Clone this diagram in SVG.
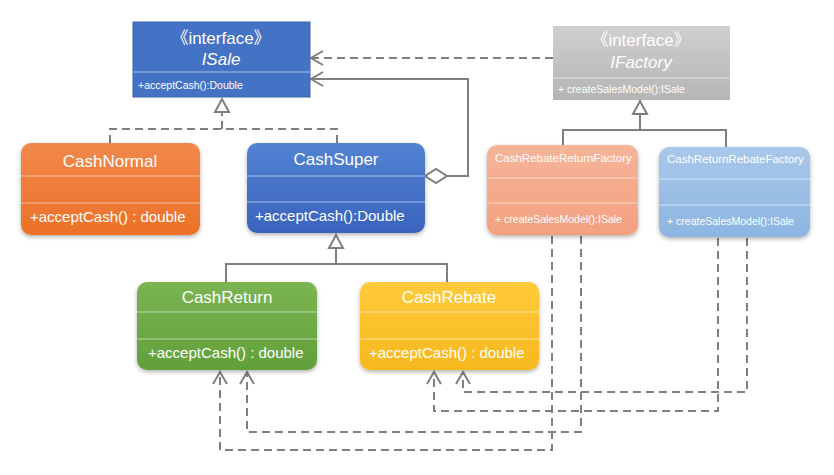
<svg xmlns="http://www.w3.org/2000/svg" width="834" height="475" viewBox="0 0 834 475">
<defs>
<style>
text{font-family:"Liberation Sans","Noto Sans CJK SC",sans-serif;fill:#ffffff}
.t{font-size:17px;text-anchor:middle}
.m{font-size:15px}
.ft{font-size:11.5px}
.fm{font-size:10.5px}
.it{font-size:17px;text-anchor:middle}
.div{stroke:#ffffff;stroke-opacity:0.55;stroke-width:1}
.ln{fill:none;stroke:#7f7f7f;stroke-width:2}
.dash{stroke-dasharray:8 5}
</style>
<filter id="sh" x="-10%" y="-10%" width="120%" height="130%">
<feDropShadow dx="0" dy="2" stdDeviation="2" flood-color="#000" flood-opacity="0.3"/>
</filter>
<linearGradient id="gOr" x1="0" y1="0" x2="0" y2="1"><stop offset="0" stop-color="#f2884c"/><stop offset="1" stop-color="#ec7128"/></linearGradient>
<linearGradient id="gBl" x1="0" y1="0" x2="0" y2="1"><stop offset="0" stop-color="#5383d3"/><stop offset="1" stop-color="#3a63bd"/></linearGradient>
<linearGradient id="gGr" x1="0" y1="0" x2="0" y2="1"><stop offset="0" stop-color="#7ab552"/><stop offset="1" stop-color="#62a03b"/></linearGradient>
<linearGradient id="gYe" x1="0" y1="0" x2="0" y2="1"><stop offset="0" stop-color="#ffca3a"/><stop offset="1" stop-color="#f6b91e"/></linearGradient>
<linearGradient id="gSa" x1="0" y1="0" x2="0" y2="1"><stop offset="0" stop-color="#f6b49a"/><stop offset="1" stop-color="#f3a07f"/></linearGradient>
<linearGradient id="gLb" x1="0" y1="0" x2="0" y2="1"><stop offset="0" stop-color="#a9c8ea"/><stop offset="1" stop-color="#8cb5e1"/></linearGradient>
<linearGradient id="gGy" x1="0" y1="0" x2="0" y2="1"><stop offset="0" stop-color="#cfcfcf"/><stop offset="1" stop-color="#b5b5b5"/></linearGradient>
<marker id="open" markerUnits="userSpaceOnUse" markerWidth="16" markerHeight="16" refX="13" refY="8" orient="auto" overflow="visible">
<path d="M1,1 L13,8 L1,15" fill="none" stroke="#7f7f7f" stroke-width="2"/>
</marker>
<marker id="tri" markerUnits="userSpaceOnUse" markerWidth="16" markerHeight="18" refX="14" refY="8" orient="auto" overflow="visible">
<path d="M1,1 L14,8 L1,15 Z" fill="#ffffff" stroke="#7f7f7f" stroke-width="2"/>
</marker>
<marker id="dia" markerUnits="userSpaceOnUse" markerWidth="26" markerHeight="16" refX="1" refY="8" orient="auto" overflow="visible">
<path d="M1,8 L12,1 L23,8 L12,15 Z" fill="#ffffff" stroke="#7f7f7f" stroke-width="2"/>
</marker>
</defs>
<rect width="834" height="475" fill="#ffffff"/>

<g id="connectors">
<path class="ln dash" d="M553,58 L311,58" marker-end="url(#open)"/>
<path class="ln" d="M425,176 L468,176 L468,79 L311,79" marker-start="url(#dia)" marker-end="url(#open)"/>
<path class="ln dash" d="M110,143 L110,129 L337,129 L337,143"/>
<path class="ln dash" d="M222,129 L222,99" marker-end="url(#tri)"/>
<path class="ln" d="M563,145 L563,130 L726,130 L726,147"/>
<path class="ln" d="M640,130 L640,101" marker-end="url(#tri)"/>
<path class="ln" d="M226,282 L226,264 L447,264 L447,282"/>
<path class="ln" d="M336,264 L336,235" marker-end="url(#tri)"/>
<path class="ln dash" d="M552,236 L552,450 L220,450 L220,372" marker-end="url(#open)"/>
<path class="ln dash" d="M581,236 L581,432 L247,432 L247,372" marker-end="url(#open)"/>
<path class="ln dash" d="M718,238 L718,411 L434,411 L434,372" marker-end="url(#open)"/>
<path class="ln dash" d="M747,238 L747,392 L463,392 L463,372" marker-end="url(#open)"/>
</g>

<g id="ISale">
<rect x="133" y="22" width="177" height="75" fill="#4472c4" stroke="#3a62ad" stroke-width="1"/>
<line class="div" x1="133" y1="72" x2="310" y2="72"/>
<text class="it" x="221" y="44">《interface》</text>
<text class="it" x="221" y="65" font-style="italic">ISale</text>
<text x="138" y="89" font-size="10.5">+acceptCash():Double</text>
</g>

<g id="IFactory">
<rect x="553" y="26" width="177" height="74" fill="url(#gGy)"/>
<line class="div" x1="553" y1="78" x2="730" y2="78"/>
<text class="it" x="641" y="46">《interface》</text>
<text class="it" x="641" y="68" font-style="italic">IFactory</text>
<text x="558" y="93" font-size="10.5">+ createSalesModel():ISale</text>
</g>

<g id="CashNormal">
<rect x="21" y="143" width="179" height="92" rx="10" fill="url(#gOr)" filter="url(#sh)"/>
<line class="div" x1="21" y1="176" x2="200" y2="176"/>
<line class="div" x1="21" y1="203" x2="200" y2="203"/>
<text class="t" x="110" y="167">CashNormal</text>
<text class="m" x="30" y="222">+acceptCash() : double</text>
</g>

<g id="CashSuper">
<rect x="247" y="143" width="178" height="90" rx="10" fill="url(#gBl)" filter="url(#sh)"/>
<line class="div" x1="247" y1="176" x2="425" y2="176"/>
<line class="div" x1="247" y1="202" x2="425" y2="202"/>
<text class="t" x="336" y="165">CashSuper</text>
<text class="m" x="255" y="221">+acceptCash():Double</text>
</g>

<g id="CashRebateReturnFactory">
<rect x="487" y="145" width="151" height="90" rx="10" fill="url(#gSa)" filter="url(#sh)"/>
<line class="div" x1="487" y1="178" x2="638" y2="178"/>
<line class="div" x1="487" y1="203" x2="638" y2="203"/>
<text class="ft" x="495" y="162">CashRebateReturnFactory</text>
<text class="fm" x="495" y="223">+ createSalesModel():ISale</text>
</g>

<g id="CashReturnRebateFactory">
<rect x="659" y="147" width="151" height="90" rx="10" fill="url(#gLb)" filter="url(#sh)"/>
<line class="div" x1="659" y1="179" x2="810" y2="179"/>
<line class="div" x1="659" y1="205" x2="810" y2="205"/>
<text class="ft" x="667" y="163">CashReturnRebateFactory</text>
<text class="fm" x="667" y="225">+ createSalesModel():ISale</text>
</g>

<g id="CashReturn">
<rect x="137" y="282" width="180" height="88" rx="10" fill="url(#gGr)" filter="url(#sh)"/>
<line class="div" x1="137" y1="312" x2="317" y2="312"/>
<line class="div" x1="137" y1="339" x2="317" y2="339"/>
<text class="t" x="227" y="303">CashReturn</text>
<text class="m" x="148" y="358">+acceptCash() : double</text>
</g>

<g id="CashRebate">
<rect x="360" y="282" width="179" height="88" rx="10" fill="url(#gYe)" filter="url(#sh)"/>
<line class="div" x1="360" y1="312" x2="539" y2="312"/>
<line class="div" x1="360" y1="339" x2="539" y2="339"/>
<text class="t" x="449" y="303">CashRebate</text>
<text class="m" x="369" y="358">+acceptCash() : double</text>
</g>
</svg>
